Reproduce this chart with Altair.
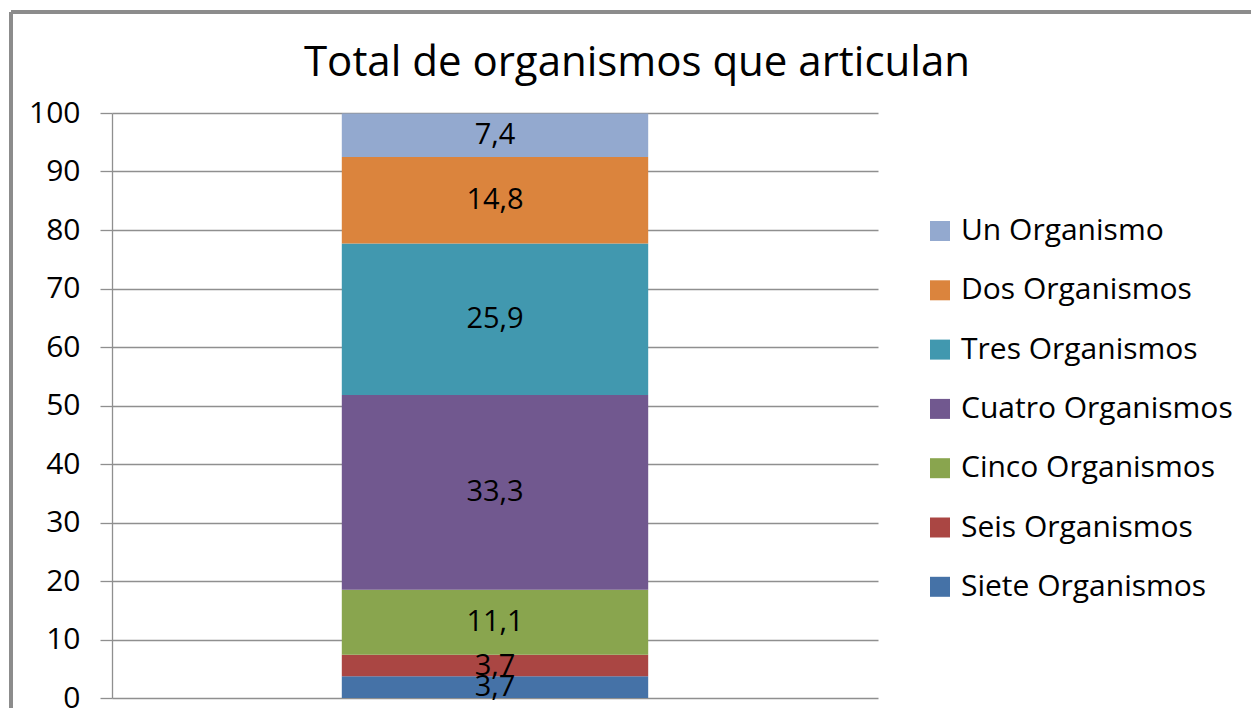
import altair as alt
import pandas as pd

categories = ["Siete Organismos", "Seis Organismos", "Cinco Organismos",
              "Cuatro Organismos", "Tres Organismos", "Dos Organismos", "Un Organismo"]
values = [3.7, 3.7, 11.1, 33.3, 25.9, 14.8, 7.4]
colors = ["#4572A7", "#AA4643", "#89A54E", "#71588F", "#4198AF", "#DB843D", "#93A9CF"]
y_ticks = [0, 10, 20, 30, 40, 50, 60, 70, 80, 90, 100]

legend_order = categories[::-1]
legend_colors = colors[::-1]

df = pd.DataFrame({
    "grupo": ["Total"] * len(categories),
    "serie": categories,
    "valor": values,
    "orden": list(range(len(categories))),
})

FONT = "Open Sans"

base = alt.Chart(df).transform_stack(
    stack="valor", groupby=["grupo"], as_=["v0", "v1"],
    sort=[alt.SortField("orden", order="ascending")]
).transform_calculate(
    mid="(datum.v0 + datum.v1) / 2",
    etiqueta="replace(format(datum.valor, '.1f'), '.', ',')"
)

xenc = alt.X("grupo:N", axis=None,
             scale=alt.Scale(paddingInner=0, paddingOuter=0.75))

bars = base.mark_bar(stroke=None).encode(
    x=xenc,
    y=alt.Y("v0:Q", scale=alt.Scale(domain=[0, 100], nice=False),
            axis=alt.Axis(values=y_ticks, title=None, grid=True,
                          gridColor="#8f8f8f", gridWidth=1.3,
                          domainColor="#8f8f8f", domainWidth=1.3,
                          tickColor="#8f8f8f", tickWidth=1.3, tickSize=12,
                          labelFont=FONT, labelFontSize=30, labelColor="#000000",
                          labelPadding=20)),
    y2="v1:Q",
    color=alt.Color("serie:N",
                    scale=alt.Scale(domain=legend_order, range=legend_colors),
                    legend=alt.Legend(title=None, orient="none", legendX=813, legendY=103,
                                      padding=0,
                                      symbolType="square", symbolSize=400,
                                      symbolStrokeWidth=0, labelFont=FONT,
                                      labelFontSize=30, labelColor="#000000",
                                      labelOffset=6, rowPadding=29.3, labelLimit=400)),
    order=alt.Order("orden:Q"),
)

labels = base.mark_text(font=FONT, fontSize=29, color="#000000", baseline="middle").encode(
    x=xenc,
    y=alt.Y("mid:Q"),
    text="etiqueta:N",
)

frame_top = alt.Chart(df).mark_rule(color="#8c8c8c", strokeWidth=3).encode(
    x=alt.value(-101), x2=alt.value(1150), y=alt.value(-101)
)
frame_left = alt.Chart(df).mark_rule(color="#8c8c8c", strokeWidth=3).encode(
    x=alt.value(-101), y=alt.value(-101), y2=alt.value(600)
)

chart = alt.layer(bars, labels, frame_top, frame_left).properties(
    width=766, height=585,
    title=alt.TitleParams("Total de organismos que articulan", font=FONT, fontSize=42,
                          fontWeight="normal", color="#000000", anchor="middle",
                          frame="group", baseline="alphabetic",
                          dx=142, dy=107, offset=0),
    autosize=alt.AutoSizeParams(type="none"),
    padding={"left": 104, "top": 105, "right": 373, "bottom": 10},
    background="white",
).configure_view(strokeWidth=0)

chart.save("out.html", embed_options={"renderer": "svg", "actions": False})
